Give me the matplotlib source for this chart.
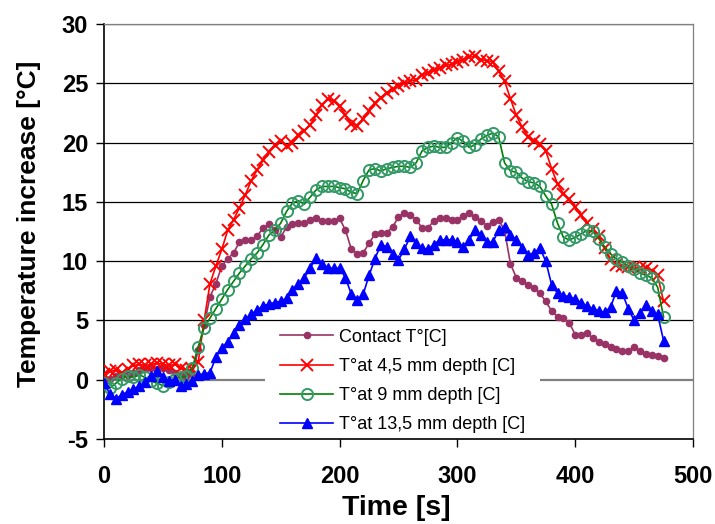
import matplotlib
matplotlib.use("Agg")
import matplotlib.pyplot as plt
from matplotlib.patches import Rectangle
import numpy as np

plt.rcParams['font.family'] = ['Liberation Sans', 'DejaVu Sans']

time_s = list(range(0, 480, 5))

contact = [0.0, 0.1, 0.3, 0.4, 0.4, 0.6, 0.8, 0.9, 1.0, 0.9,
           1.0, 0.8, 0.6, 0.4, 0.3, 0.5, 2.5, 4.6, 7.0, 8.1,
           9.6, 10.2, 10.7, 11.6, 11.8, 11.8, 12.1, 12.8, 13.1, 12.6,
           12.0, 12.9, 13.1, 13.2, 13.2, 13.5, 13.6, 13.4, 13.4, 13.4,
           13.6, 12.6, 11.0, 10.6, 10.7, 11.5, 12.3, 12.4, 12.4, 12.9,
           13.7, 14.1, 13.9, 13.5, 12.8, 12.8, 13.4, 13.6, 13.6, 13.5,
           13.5, 13.8, 14.1, 13.7, 13.4, 13.0, 13.3, 13.5, 12.6, 9.8,
           8.6, 8.3, 8.0, 7.7, 7.3, 6.6, 5.8, 5.3, 5.2, 4.8,
           3.8, 3.8, 3.9, 3.5, 3.2, 3.0, 2.8, 2.6, 2.4, 2.4,
           2.8, 2.4, 2.2, 2.1, 2.0, 1.8]

depth_4_5 = [0.5, 0.7, 0.8, 0.6, 0.9, 1.2, 1.3, 1.2, 1.3, 1.4,
             1.3, 1.2, 1.3, 1.0, 0.8, 0.9, 1.5, 5.0, 8.1, 9.6,
             11.0, 12.6, 13.5, 14.5, 15.6, 16.8, 17.7, 18.5, 19.2, 19.8,
             20.1, 19.7, 20.0, 20.6, 21.0, 21.5, 22.3, 23.2, 23.7, 23.5,
             23.1, 22.3, 21.6, 21.4, 22.0, 22.7, 23.3, 23.8, 24.2, 24.5,
             24.8, 25.0, 25.2, 25.3, 25.7, 25.9, 26.1, 26.3, 26.5, 26.6,
             26.8, 27.0, 27.2, 27.3, 27.0, 26.9, 26.8, 26.0, 25.2, 23.7,
             22.3, 21.3, 20.5, 20.1, 19.9, 19.3, 17.8, 16.5, 15.7, 15.2,
             14.6, 13.9, 13.2, 12.7, 12.1, 11.1, 10.2, 9.7, 9.6, 9.5,
             9.5, 9.4, 9.4, 9.2, 8.8, 6.6]

depth_9 = [-0.3, -0.7, -0.3, 0.1, 0.3, 0.2, 0.4, 0.2, -0.1, -0.3,
           -0.5, -0.2, 0.1, 0.2, 0.3, 1.0, 2.8, 4.4, 5.2, 6.0,
           6.8, 7.6, 8.3, 9.0, 9.6, 10.2, 10.7, 11.4, 12.2, 12.6,
           13.2, 14.2, 14.9, 15.1, 14.8, 15.4, 16.0, 16.3, 16.3, 16.3,
           16.2, 16.1, 15.8, 15.7, 16.8, 17.7, 17.8, 17.6, 17.8, 17.9,
           18.0, 18.0, 17.9, 18.3, 19.3, 19.6, 19.7, 19.6, 19.6, 20.0,
           20.4, 20.1, 19.6, 19.8, 20.3, 20.6, 20.8, 20.5, 18.3, 17.6,
           17.5, 17.0, 16.7, 16.6, 16.3, 15.5, 14.8, 13.2, 12.0, 11.8,
           12.0, 12.3, 12.6, 12.5, 11.9, 11.2, 10.6, 10.2, 9.9, 9.6,
           9.3, 9.0, 8.8, 8.6, 7.8, 5.3]

depth_13_5 = [-0.3, -1.2, -1.6, -1.3, -1.0, -0.8, -0.5, -0.2, 0.3, 0.7,
              0.2, -0.1, 0.0, -0.5, -0.4, -0.1, 0.4, 0.5, 0.6, 1.9,
              2.7, 3.2, 3.9, 4.6, 5.1, 5.5, 5.9, 6.2, 6.4, 6.5,
              6.6, 6.9, 7.6, 8.1, 8.6, 9.4, 10.3, 9.8, 9.4, 9.4,
              9.4, 8.6, 7.2, 6.7, 7.2, 8.8, 10.2, 11.4, 11.2, 10.6,
              10.1, 11.0, 12.1, 11.5, 11.1, 11.0, 11.4, 11.8, 11.8, 11.8,
              11.6, 11.2, 11.8, 12.6, 12.2, 11.6, 11.6, 12.6, 12.9, 12.2,
              11.8, 11.1, 10.5, 10.7, 11.1, 10.0, 8.0, 7.3, 7.1, 7.0,
              6.8, 6.5, 6.2, 6.0, 5.8, 5.7, 6.1, 7.5, 7.3, 6.0,
              5.0, 5.6, 6.3, 5.8, 5.5, 3.3]

labels = ["Contact T°[C]", "T°at 4,5 mm depth [C]",
          "T°at 9 mm depth [C]", "T°at 13,5 mm depth [C]"]

x_ticks = [0, 100, 200, 300, 400, 500]
y_ticks = [-5, 0, 5, 10, 15, 20, 25, 30]

fig = plt.figure(figsize=(7.15, 5.24), dpi=100)
ax = fig.add_axes([104/715, 1-439/524, (693-104)/715, (439-24)/524])
ax.set_xlim(0, 500)
ax.set_ylim(-5, 30)

for v in y_ticks[2:]:
    ax.axhline(v, color='black', lw=0.9, zorder=0.5)
ax.axhline(0, color='#808080', lw=1.6, zorder=0.6)

ax.add_patch(Rectangle((0.273, 0.004), 0.467, 0.276, transform=ax.transAxes,
                       facecolor='white', edgecolor='none', zorder=1.5))

ax.plot(time_s, contact, color='#993366', lw=1.2, marker='o', ms=4.5,
        mfc='#993366', mec='#993366', label=labels[0], zorder=3)
ax.plot(time_s, depth_4_5, color='#FF0000', lw=1.2, marker='x', ms=9,
        mew=1.4, label=labels[1], zorder=4)
ax.plot(time_s, depth_9, color='#008000', lw=1.2, marker='o', ms=8,
        mfc='none', mec='#339966', mew=1.4, label=labels[2], zorder=5)
ax.plot(time_s, depth_13_5, color='#0000FF', lw=1.2, marker='^', ms=6.5,
        mfc='#0000FF', mec='#0000FF', label=labels[3], zorder=6)

ax.set_xticks(x_ticks)
ax.set_yticks(y_ticks)
ax.set_xticklabels([str(v) for v in x_ticks], fontweight='bold', fontsize=17)
ax.set_yticklabels([str(v) for v in y_ticks], fontweight='bold', fontsize=17)
ax.tick_params(axis='x', direction='out', length=5.5, width=1, pad=13)
ax.tick_params(axis='y', direction='out', length=5.5, width=1, pad=6)

for s in ['left', 'bottom']:
    ax.spines[s].set_color('black')
    ax.spines[s].set_linewidth(1.2)
for s in ['top', 'right']:
    ax.spines[s].set_color('#808080')
    ax.spines[s].set_linewidth(0.9)

ax.set_xlabel('Time [s]', fontweight='bold', fontsize=20.5)
ax.set_ylabel('Temperature increase [°C]', fontweight='bold', fontsize=19)
ax.xaxis.set_label_coords(0.496, -0.135)
ax.yaxis.set_label_coords(-0.107, 0.519)

leg = ax.legend(loc='upper left', bbox_to_anchor=(0.299, 0.266), frameon=False,
                fontsize=13, handlelength=2.95, handletextpad=0.3,
                labelspacing=0.68, borderpad=0, borderaxespad=0)
leg.set_zorder(10)

fig.savefig('out.png', dpi=100)
